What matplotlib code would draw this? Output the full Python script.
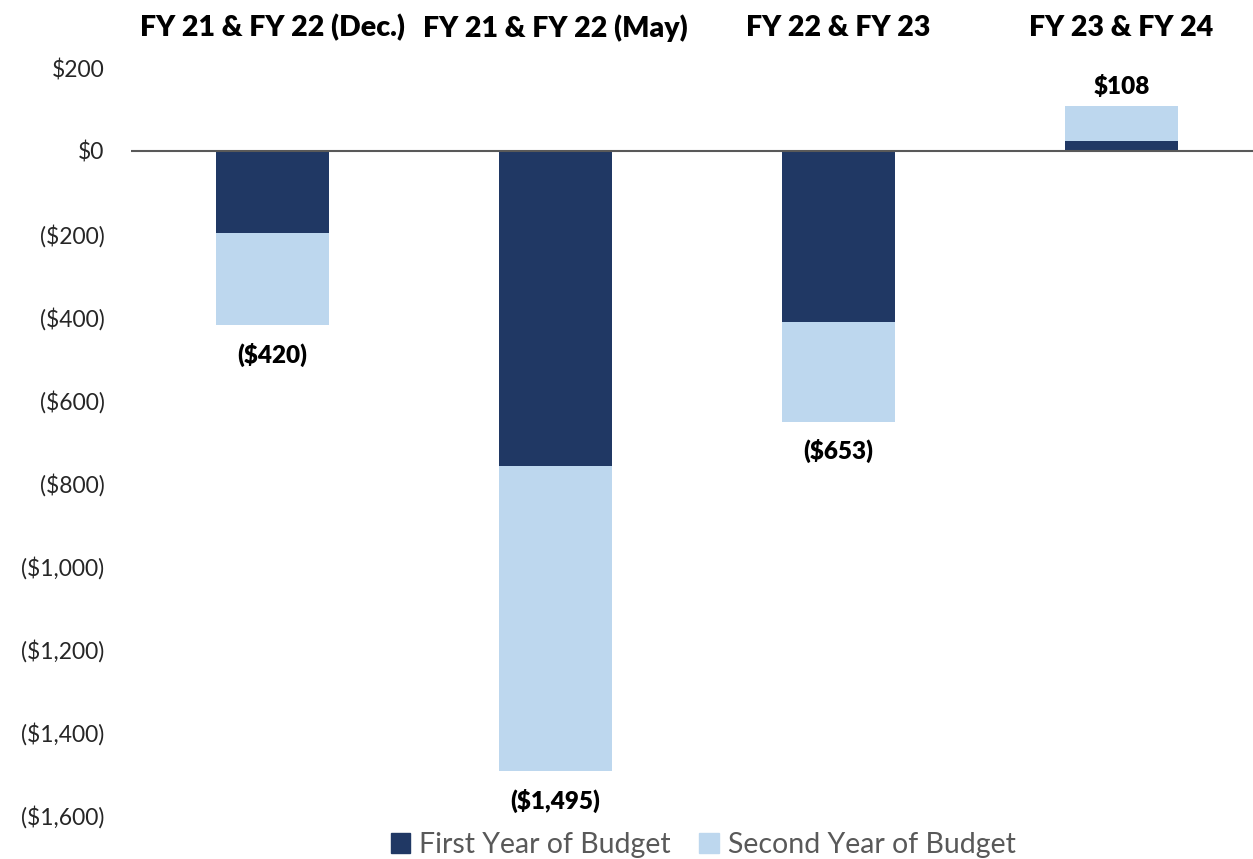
import matplotlib
matplotlib.use("Agg")
import matplotlib.pyplot as plt
from matplotlib.patches import Patch

plt.rcParams['font.family'] = ['Lato', 'DejaVu Sans']

categories = ["FY 21 & FY 22 (Dec.)", "FY 21 & FY 22 (May)", "FY 22 & FY 23", "FY 23 & FY 24"]
first_year = [-197, -759, -412, 24]
second_year = [-223, -736, -241, 84]
totals = [-420, -1495, -653, 108]

dark = "#203864"
light = "#BDD7EE"


def money(v):
    s = "${:,.0f}".format(abs(v))
    return "(" + s + ")" if v < 0 else s


fig = plt.figure(figsize=(12.53, 8.59), dpi=100)
ax = fig.add_axes([131 / 1253, 1 - 815 / 859, 1 - 131 / 1253, (815 - 68) / 859])

x = list(range(len(categories)))
ax.bar(x, first_year, width=0.4, color=dark, zorder=2)
ax.bar(x, second_year, width=0.4, bottom=first_year, color=light, zorder=2)
ax.axhline(0, color="#595959", lw=1.5, zorder=3)

for i, t in enumerate(totals):
    if t < 0:
        ax.annotate(money(t), (i, t), xytext=(0, -21), textcoords="offset points",
                    ha="center", va="center", fontsize=17.5, fontweight="heavy")
    else:
        ax.annotate(money(t), (i, t), xytext=(0, 14), textcoords="offset points",
                    ha="center", va="center", fontsize=17.5, fontweight="heavy")
    ax.text(i, 1.0535, categories[i], transform=ax.get_xaxis_transform(),
            ha="center", va="center", fontsize=20.5, fontweight="heavy")

ax.set_xlim(-0.5, 3.465)
ax.set_ylim(-1600, 200)
ax.set_yticks(range(-1600, 201, 200))
ax.set_yticklabels([money(v) for v in range(-1600, 201, 200)], fontsize=16.5, color="#262626")
ax.set_xticks([])
ax.tick_params(axis="y", length=0, pad=19)
for s in ax.spines.values():
    s.set_visible(False)

handles = [Patch(color=dark, label="First Year of Budget"),
           Patch(color=light, label="Second Year of Budget")]
fig.legend(handles=handles, loc="center", bbox_to_anchor=(703 / 1253, 1 - 845 / 859),
           ncol=2, frameon=False, fontsize=20.5, labelcolor="#595959",
           handlelength=0.7, handleheight=0.7, handletextpad=0.3, columnspacing=1.0)

fig.savefig("out.png", dpi=100)
